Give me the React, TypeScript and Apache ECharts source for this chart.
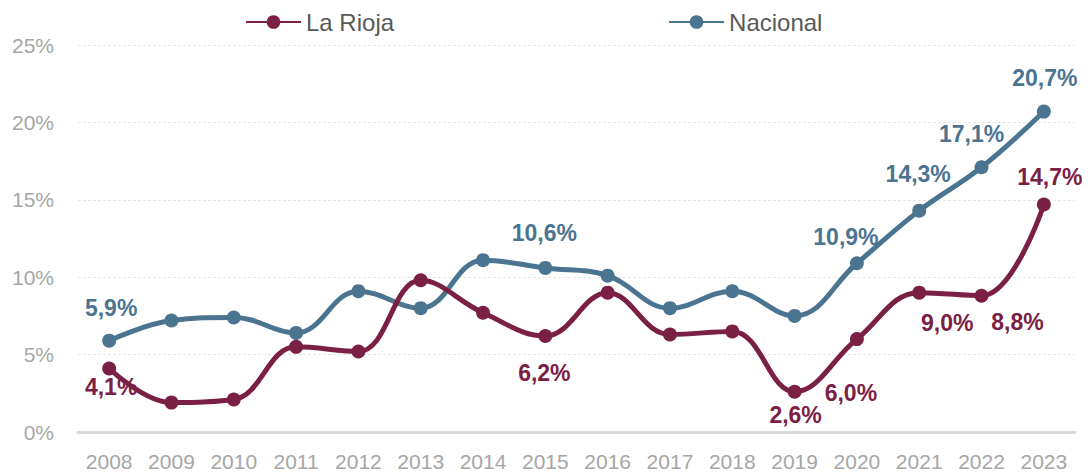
import React, { useEffect, useRef } from "react";
import * as echarts from "echarts";

const years = ["2008","2009","2010","2011","2012","2013","2014","2015","2016","2017","2018","2019","2020","2021","2022","2023"];
const laRioja = [4.1, 1.9, 2.1, 5.5, 5.2, 9.8, 7.7, 6.2, 9.0, 6.3, 6.5, 2.6, 6.0, 9.0, 8.8, 14.7];
const nacional = [5.9, 7.2, 7.4, 6.4, 9.1, 8.0, 11.1, 10.6, 10.1, 8.0, 9.1, 7.5, 10.9, 14.3, 17.1, 20.7];
const yTicks = [0, 5, 10, 15, 20, 25];

// label placement (index -> offset of label centre from point)
const riojaLabels: Record<number, [number, number]> = {
  0: [2, 18], 7: [-1, 37], 11: [1, 23], 12: [-6, 54], 13: [28, 30], 14: [36, 26], 15: [6, -27],
};
const nacionalLabels: Record<number, [number, number]> = {
  0: [2, -33], 7: [-1, -35], 12: [-11, -26], 13: [-1, -37], 14: [-10, -33], 15: [1, -34],
};

const RIOJA = "#7B2045";
const NAC = "#4B7490";

const fmt = (v: number) => v.toFixed(1).replace(".", ",") + "%";

function buildData(values: number[], labels: Record<number, [number, number]>, color: string) {
  return values.map((v, i) => {
    const off = labels[i];
    return {
      value: v,
      label: off
        ? {
            show: true,
            position: "inside",
            offset: off,
            formatter: () => fmt(v),
            color,
            fontSize: 23,
            fontWeight: "bold",
            fontFamily: "Liberation Sans, Arial, sans-serif",
          }
        : { show: false },
    };
  });
}

export default function App() {
  const ref = useRef<HTMLDivElement>(null);
  useEffect(() => {
    if (!ref.current) return;
    const chart = echarts.init(ref.current, null, { renderer: "svg" });
    chart.setOption({
      animation: false,
      backgroundColor: "#ffffff",
      legend: {
        top: 10,
        left: 245,
        itemGap: 274,
        itemWidth: 55,
        itemHeight: 17,
        padding: 0,
        textStyle: { fontSize: 24, color: "#595959", fontFamily: "Liberation Sans, Arial, sans-serif" },
        data: ["La Rioja", "Nacional"],
      },
      grid: { left: 78, right: 14, top: 45, bottom: 41, containLabel: false },
      xAxis: {
        type: "category",
        data: years,
        boundaryGap: true,
        axisLine: { show: true, lineStyle: { color: "#D9D9D9", width: 3 } },
        axisTick: { show: false },
        axisLabel: {
          margin: 19,
          fontSize: 21,
          color: "#A6A6A6",
          fontFamily: "Liberation Sans, Arial, sans-serif",
        },
      },
      yAxis: {
        type: "value",
        min: yTicks[0],
        max: yTicks[yTicks.length - 1],
        interval: 5,
        axisLine: { show: false },
        axisTick: { show: false },
        axisLabel: {
          margin: 24,
          fontSize: 21,
          color: "#A6A6A6",
          fontFamily: "Liberation Sans, Arial, sans-serif",
          formatter: "{value}%",
        },
        splitLine: { show: true, lineStyle: { color: "#E6E6E6", width: 1, type: [3, 2] } },
      },
      series: [
        {
          name: "La Rioja",
          type: "line",
          smooth: 0.4,
          data: buildData(laRioja, riojaLabels, RIOJA),
          symbol: "circle",
          symbolSize: 14,
          lineStyle: { color: RIOJA, width: 5 },
          itemStyle: { color: RIOJA },
          z: 3,
        },
        {
          name: "Nacional",
          type: "line",
          smooth: 0.4,
          data: buildData(nacional, nacionalLabels, NAC),
          symbol: "circle",
          symbolSize: 14,
          lineStyle: { color: NAC, width: 5 },
          itemStyle: { color: NAC },
          z: 2,
        },
      ],
    });
    return () => chart.dispose();
  }, []);
  return <div ref={ref} style={{ width: 1089, height: 473, position: "absolute", left: 0, top: 0 }} />;
}
